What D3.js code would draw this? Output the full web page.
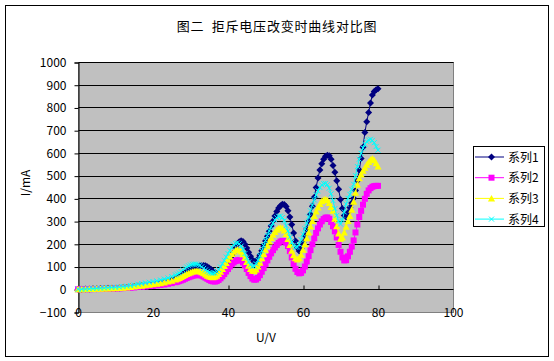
<!DOCTYPE html>
<html><head><meta charset="utf-8">
<script src="https://cdn.jsdelivr.net/npm/d3@7"></script>
<style>body{margin:0;background:#fff}svg{display:block}</style>
</head><body>
<svg id="c" width="554" height="361"></svg>
<script>
const title = "图二  拒斥电压改变时曲线对比图";
const xLabel = "U/V";
const yLabel = "I/mA";
const xTicks = [0,20,40,60,80,100];
const yTicks = [-100,0,100,200,300,400,500,600,700,800,900,1000];
const seriesNames = ["系列1","系列2","系列3","系列4"];
const seriesColors = ["#000080","#FF00FF","#FFFF00","#00FFFF"];
const voltage = [0,1,2,3,4,5,6,7,8,9,10,11,12,13,14,15,16,17,18,19,20,21,22,23,24,25,26,
26.5,27,27.5,28,28.5,29,29.5,30,30.5,31,31.5,32,32.5,33,33.5,34,34.5,35,35.5,36,36.5,37,37.5,38,38.5,39,39.5,40,40.5,41,
41.5,42,42.5,43,43.5,44,44.5,45,45.5,46,46.5,47,47.5,48,48.5,49,49.5,50,50.5,51,51.5,52,52.5,53,53.5,54,54.5,55,55.5,56,
56.5,57,57.5,58,58.5,59,59.5,60,60.5,61,61.5,62,62.5,63,63.5,64,64.5,65,65.5,66,66.5,67,67.5,68,68.5,69,69.5,70,70.5,71,
71.5,72,72.5,73,73.5,74,74.5,75,75.5,76,76.5,77,77.5,78,78.5,79,79.5,80];
const series1 = [0,0,1,1,2,2,3,3,4,4,5,6,7,8,10,12,14,16,18,20,22,25,28,31,35,40,47,
51,55,60,66,72,78,83,88,92,95,98,100,103,104,105,103,99,94,87,80,74,69,66,68,74,84,98,112,128,145,
162,180,198,209,214,210,198,182,163,145,130,121,122,133,150,170,190,212,233,255,278,300,322,342,358,368,374,373,364,346,
318,285,248,212,183,168,178,205,235,265,298,330,365,405,448,490,525,552,572,585,590,588,572,545,515,478,440,395,355,325,
318,338,360,380,400,435,478,525,575,625,690,737,778,820,855,870,878,882];
const series2 = [0,0,0,0,1,1,1,2,2,3,3,4,5,6,7,8,10,11,12,14,15,17,19,21,24,27,31,
33,36,39,42,46,50,53,56,59,61,62,63,62,60,56,51,46,41,37,35,34,36,41,48,57,67,78,89,100,110,
118,124,128,129,126,118,105,89,72,58,47,42,43,50,62,77,93,110,127,143,158,172,184,195,204,210,213,212,205,190,
168,140,112,90,76,70,72,83,100,122,146,172,198,224,248,268,285,299,309,315,316,310,296,277,255,228,195,165,140,127,
128,145,165,188,215,250,285,318,345,372,398,420,435,445,451,454,455,455];
const series3 = [0,0,0,1,1,2,2,3,3,4,5,6,7,8,10,12,14,16,18,20,22,24,27,30,34,38,43,
46,50,54,58,63,67,71,74,77,79,80,80,78,75,70,65,60,56,54,53,55,60,67,77,89,102,116,130,143,155,
165,172,175,173,166,154,138,120,103,89,81,80,87,100,117,136,155,174,192,210,226,240,252,262,268,271,268,259,243,221,
195,170,150,136,131,136,152,174,198,224,250,276,300,322,342,360,375,387,394,396,392,380,362,345,310,277,245,222,228,250,
275,300,322,350,385,425,460,488,505,522,535,548,560,570,575,568,555,540];
const series4 = [0,0,1,2,3,4,5,6,7,8,9,10,12,14,16,19,22,25,28,31,34,37,41,45,50,56,63,
67,72,78,85,92,98,103,107,110,111,111,109,105,99,92,85,79,74,71,70,72,78,87,98,112,127,142,157,171,184,
195,202,204,200,190,175,157,138,120,107,101,102,112,128,148,170,192,214,236,256,275,291,305,315,321,322,316,302,280,256,
230,207,192,185,186,198,218,242,266,292,318,345,370,393,415,433,448,459,465,466,460,445,420,390,355,325,300,287,305,340,
375,400,418,440,462,500,540,572,598,622,638,650,657,660,655,645,628,612];
const allSeries = [series1,series2,series3,series4];

const svg = d3.select("#c");
const FONT = "'Noto Sans CJK SC', sans-serif";
svg.append("rect").attr("x",0).attr("y",0).attr("width",554).attr("height",361).attr("fill","#fff");
svg.append("rect").attr("x",5.5).attr("y",5.5).attr("width",543).attr("height",351)
  .attr("fill","none").attr("stroke","#000");

const x = d3.scaleLinear().domain([0,100]).range([78,453]);
const y = d3.scaleLinear().domain([-100,1000]).range([312,62]);
const px = v => Math.round(x(v)) + 0.5;
const py = v => Math.round(y(v)) + 0.5;

// plot area
svg.append("rect").attr("x",px(0)).attr("y",py(1000)).attr("width",px(100)-px(0)).attr("height",py(-100)-py(1000))
  .attr("fill","#C0C0C0").attr("stroke","#808080");

// gridlines
svg.append("g").selectAll("line").data(yTicks.filter(t=>t>-100)).join("line")
  .attr("x1",px(0)).attr("x2",px(100)).attr("y1",d=>py(d)).attr("y2",d=>py(d))
  .attr("stroke","#000").attr("stroke-width",1);

// y axis
const yAxis = d3.axisLeft(y).tickValues(yTicks).tickSize(4).tickPadding(8).tickFormat(d=>d<0?"\u2212"+Math.abs(d):d);
const gy = svg.append("g").attr("transform",`translate(${px(0)},0.5)`).call(yAxis);
gy.select(".domain").attr("stroke","#000");
gy.selectAll(".tick line").attr("stroke","#000");
gy.selectAll("text").attr("font-family",FONT).attr("font-size",12).attr("fill","#000");

// x axis ticks at y=0 (upwards), labels at bottom
const xAxis = d3.axisTop(x).tickValues(xTicks.filter(t=>t>0&&t<100)).tickSize(4).tickFormat("");
const gx = svg.append("g").attr("transform",`translate(0.5,${py(0)})`).call(xAxis);
gx.select(".domain").remove();
gx.selectAll(".tick line").attr("stroke","#000");
svg.append("g").selectAll("text").data(xTicks).join("text")
  .attr("x",d=>x(d)+0.5).attr("y",y(-100)+5).attr("text-anchor","middle")
  .attr("font-family",FONT).attr("font-size",12).text(d=>d);

// series
const line = d3.line().x((d,i)=>x(voltage[i])).y(d=>y(d));
const markerPath = [
  "M0,-3.5L3.5,0L0,3.5L-3.5,0Z",
  "M-3,-3H3V3H-3Z",
  "M0,-3.5L3.6,3L-3.6,3Z",
  "M-2.5,-2.5L2.5,2.5M-2.5,2.5L2.5,-2.5"
];
allSeries.forEach((s,k)=>{
  const g = svg.append("g");
  g.append("path").attr("d",line(s)).attr("fill","none").attr("stroke",seriesColors[k]).attr("stroke-width",1);
  g.selectAll("path.m").data(s).join("path").attr("class","m")
    .attr("transform",(d,i)=>`translate(${x(voltage[i])},${y(d)})`)
    .attr("d",markerPath[k])
    .attr("fill",k===3?"none":seriesColors[k])
    .attr("stroke",k===3?seriesColors[k]:"none");
});

// titles
svg.append("text").attr("x",277).attr("y",31).attr("text-anchor","middle")
  .attr("font-family",FONT).attr("font-size",13).attr("letter-spacing",0.8)
  .style("white-space","pre").text(title);
svg.append("text").attr("x",266).attr("y",342).attr("text-anchor","middle")
  .attr("font-family",FONT).attr("font-size",12).text(xLabel);
svg.append("text").attr("transform","translate(30,183) rotate(-90)").attr("text-anchor","middle")
  .attr("font-family",FONT).attr("font-size",12).text(yLabel);

// legend
const lg = svg.append("g");
lg.append("rect").attr("x",473.5).attr("y",146.5).attr("width",71).attr("height",80)
  .attr("fill","#fff").attr("stroke","#000");
seriesNames.forEach((n,k)=>{
  const yy = 157 + k*20.7;
  lg.append("line").attr("x1",475).attr("x2",504).attr("y1",yy).attr("y2",yy).attr("stroke",seriesColors[k]);
  lg.append("path").attr("transform",`translate(491.5,${yy})`).attr("d",markerPath[k])
    .attr("fill",k===3?"none":seriesColors[k]).attr("stroke",k===3?seriesColors[k]:"none");
  lg.append("text").attr("x",508).attr("y",yy+4.5).attr("font-family",FONT).attr("font-size",12).text(n);
});
</script>
</body></html>
